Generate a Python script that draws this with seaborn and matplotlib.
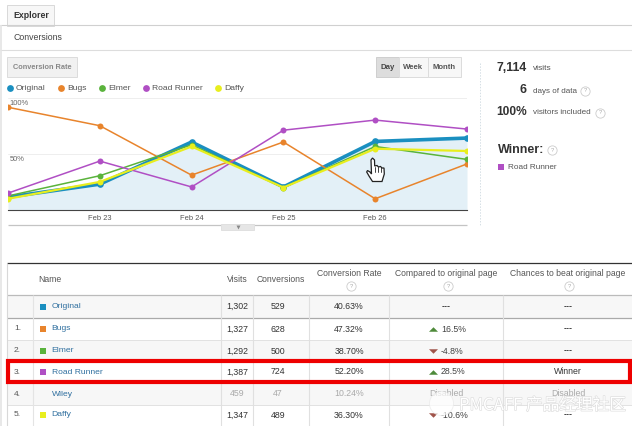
import matplotlib
matplotlib.use("Agg")
import matplotlib.pyplot as plt
import pandas as pd
import seaborn as sns
from matplotlib.patches import Polygon, Rectangle
import matplotlib.patheffects as pe

days = [0, 1, 2, 3, 4, 5]
tick_days = [1, 2, 3, 4]
tick_labels = ["Feb 23", "Feb 24", "Feb 25", "Feb 26"]

original = [11.5, 23, 60.5, 20.5, 61, 64]
bugs = [91.4, 75, 31, 60.5, 10, 41]
elmer = [12.5, 30.5, 58, 20, 56.5, 45]
road_runner = [15, 43.5, 20.5, 71, 80, 72]
daffy = [10, 25, 56.5, 20, 54.5, 52.5]

names = ["Original", "Bugs", "Elmer", "Road Runner", "Wiley", "Daffy"]
visits = ["1,302", "1,327", "1,292", "1,387", "459", "1,347"]
conversions = ["529", "628", "500", "724", "47", "489"]
rates = ["40.63%", "47.32%", "38.70%", "52.20%", "10.24%", "36.30%"]
compared = ["---", "16.5%", "-4.8%", "28.5%", "Disabled", "-10.6%"]
chances = ["---", "---", "---", "Winner", "Disabled", "---"]
ranks = ["", "1.", "2.", "3.", "4.", "5."]

BLUE = "#1a8fc0"
ORANGE = "#e8842c"
GREEN = "#5ab33c"
PURPLE = "#b04fc4"
YELLOW = "#e8ee1e"
colors = {"Original": BLUE, "Bugs": ORANGE, "Elmer": GREEN, "Road Runner": PURPLE, "Daffy": YELLOW}

TEXT = "#444444"
LINK = "#2f6f9f"
GREY = "#aaaaaa"
LINE = "#d8d8d8"

sns.set_theme(style="white")
plt.rcParams["font.family"] = ["Liberation Sans", "DejaVu Sans"]

df = pd.DataFrame({"day": days, "Original": original, "Bugs": bugs, "Elmer": elmer,
                   "Road Runner": road_runner, "Daffy": daffy})
long_df = df.melt(id_vars="day", var_name="variation", value_name="rate")

fig = plt.figure(figsize=(6.32, 4.26), dpi=100)

# page furniture is laid out in pixels on a full-figure axes
page = fig.add_axes([0, 0, 1, 1])
page.set_xlim(0, 632)
page.set_ylim(426, 0)
page.axis("off")


def hline(y, x0=0, x1=632, color=LINE, lw=0.8):
    page.plot([x0, x1], [y, y], color=color, lw=lw, solid_capstyle="butt")


def vline(x, y0, y1, color=LINE, lw=0.8, ls="-"):
    page.plot([x, x], [y0, y1], color=color, lw=lw, ls=ls, solid_capstyle="butt")


def box(x0, y0, x1, y1, face="#f1f1f1", edge="#dcdcdc", lw=0.7, z=1):
    page.add_patch(Rectangle((x0, y0), x1 - x0, y1 - y0, facecolor=face, edgecolor=edge, lw=lw, zorder=z))


def label(x, y, s, size=6.2, color=TEXT, ha="left", weight="normal"):
    page.text(x, y, s, fontsize=size, color=color, ha=ha, va="center", fontweight=weight, zorder=6)


def help_icon(x, y, r=4.5):
    page.scatter([x], [y], s=r * r * 2.2, facecolor="white", edgecolor="#cccccc", linewidth=0.6, zorder=5)
    label(x, y, "?", size=4.2, color="#aaaaaa", ha="center")


# tab and header
hline(25, color="#d0d0d0")
hline(50, color="#dddddd")
vline(1, 25, 426, color="#e4e4e4", lw=1.2)
box(7, 5, 54, 25.5, face="#f7f7f7", edge="#d8d8d8")
label(13, 16, "Explorer", size=6.3, color="#333333", weight="bold")
label(13, 38, "Conversions", size=6.3, color="#444444")

# buttons
box(7, 57, 77, 77)
label(42, 67.5, "Conversion Rate", size=5.3, color="#888888", ha="center", weight="bold")
box(376, 57, 399, 77, face="#dddddd", edge="#cfcfcf")
box(399, 57, 428, 77, face="#f7f7f7")
box(428, 57, 461, 77, face="#f7f7f7")
label(388, 67.5, "Day", size=5.6, color="#444444", ha="center", weight="bold")
label(413.5, 67.5, "Week", size=5.6, color="#555555", ha="center", weight="bold")
label(444.5, 67.5, "Month", size=5.6, color="#555555", ha="center", weight="bold")

# legend
for x, name in zip([10, 61, 102, 146, 218], colors):
    page.scatter([x], [88], s=24, color=colors[name], linewidth=0, zorder=4)
    label(x + 6, 88.5, name, size=6.1, color="#555555")

# chart, kept under the page axes so the cursor lands on top
ax = fig.add_axes([8 / 632, 1 - 210 / 426, (467 - 8) / 632, (210 - 97.6) / 426])
ax.set_zorder(-1)
ax.patch.set_alpha(0)
ax.fill_between(days, original, 0, color="#e3f0f7", lw=0)
sns.lineplot(data=long_df[long_df.variation == "Original"], x="day", y="rate", color=BLUE, lw=2.6,
             marker="o", markersize=4.8, markeredgewidth=0, ax=ax, zorder=3)
for name in ["Bugs", "Elmer", "Road Runner", "Daffy"]:
    sns.lineplot(data=long_df[long_df.variation == name], x="day", y="rate", color=colors[name],
                 lw=1.1, marker="o", markersize=4.3, markeredgewidth=0, ax=ax, zorder=4)
ax.lines[-1].set_linewidth(1.6)
ax.set_xlim(0, 5)
ax.set_ylim(0, 100)
ax.set_xticks(tick_days, tick_labels)
ax.set_yticks([50, 100], [])
ax.set_xlabel("")
ax.set_ylabel("")
ax.grid(axis="y", color="#eeeeee", lw=0.7)
ax.set_axisbelow(True)
sns.despine(ax=ax, left=True, right=True, top=True)
ax.spines["bottom"].set_color("#444444")
ax.spines["bottom"].set_linewidth(0.8)
ax.tick_params(axis="x", length=0, pad=3.5, labelsize=5.4, labelcolor="#555555")
ax.text(0.003, 48, "50%", fontsize=5.4, color="#666666", transform=ax.get_yaxis_transform(), va="top", ha="left")
ax.text(0.003, 98, "100%", fontsize=5.4, color="#666666", transform=ax.get_yaxis_transform(), va="top", ha="left")

# scrollbar handle under the chart
hline(224.5, 8, 467, color="#c4c4c4", lw=0.9)
box(221, 224, 254, 229.5, face="#e6e6e6", edge="#e0e0e0", z=3)
page.scatter([237.5], [226.5], marker="v", s=8, color="#888888", linewidth=0, zorder=4)

# hand cursor
hand = [(371, 160), (372.5, 158), (374.5, 160), (374.7, 166), (377, 165.5), (378.5, 167), (380.5, 166.5),
        (382, 168), (384, 168), (384.3, 174), (382, 181.5), (372.5, 181.5), (369, 176), (366.7, 172),
        (367.5, 170.5), (370, 172), (371.5, 174)]
page.add_patch(Polygon(hand, closed=True, facecolor="white", edgecolor="#222222", lw=0.9, zorder=7))
for x in [374.7, 377.5, 380.5]:
    page.plot([x, x], [167, 172], color="#222222", lw=0.6, zorder=8)

# summary on the right
vline(480, 63, 226, color="#d5dfe5", lw=0.7, ls=(0, (1.5, 1.5)))
label(527, 68, "7,114", size=8.9, color="#333333", ha="right", weight="bold")
label(533, 69, "visits", size=6, color="#555555")
label(527, 90, "6", size=8.9, color="#333333", ha="right", weight="bold")
label(533, 91.5, "days of data", size=5.8, color="#555555")
help_icon(585, 91)
label(527, 112, "100%", size=8.6, color="#333333", ha="right", weight="bold")
label(533, 113, "visitors included", size=5.9, color="#555555")
help_icon(600, 113)
label(498, 150, "Winner:", size=9, color="#333333", weight="bold")
help_icon(552, 150)
page.add_patch(Rectangle((498, 164), 6, 6, facecolor=PURPLE, lw=0))
label(507.5, 167.5, "Road Runner", size=5.9, color="#555555")

# table
table_top, header_bottom = 263, 295
row_tops = [295, 318, 339.5, 361, 382.5, 404.5]
row_bottom = 426
for i, top in enumerate(row_tops):
    bottom = row_tops[i + 1] if i + 1 < len(row_tops) else row_bottom
    if i in (0, 2, 4):
        page.add_patch(Rectangle((7, top), 625, bottom - top, facecolor="#f7f7f7", lw=0, zorder=0))
    hline(top, 7, 632, color="#e2e2e2", lw=0.7)
hline(table_top, 7, 632, color="#333333", lw=0.9)
hline(header_bottom, 7, 632, color="#bbbbbb", lw=0.9)
hline(318, 7, 632, color="#aaaaaa", lw=0.9)
vline(7, table_top, row_bottom, color="#d8d8d8")
vline(33, 295, row_bottom, color="#e4e4e4")
for x in [221, 253, 309, 389, 503]:
    vline(x, 295, row_bottom, color="#e0e0e0")
label(38, 280, "Name", size=6.2, color="#555555")
label(237, 280, "Visits", size=6.2, color="#555555", ha="center")
label(281, 280, "Conversions", size=6.2, color="#555555", ha="center")
label(349, 274, "Conversion Rate", size=6.2, color="#555555", ha="center")
label(446, 274, "Compared to original page", size=6.2, color="#555555", ha="center")
label(568, 274, "Chances to beat original page", size=6.25, color="#555555", ha="center")
for x in [351, 448, 569]:
    help_icon(x, 286)

# marker paths are not flipped by the inverted y axis
up_arrow = [(-1, -0.5), (1, -0.5), (0, 0.5)]
row_y = [306.5, 329, 351, 372, 394, 415]
for i, name in enumerate(names):
    y = row_y[i]
    disabled = name == "Wiley"
    num_color = GREY if disabled else "#333333"
    label(14, y, ranks[i], size=6, color="#555555")
    if name in colors:
        page.add_patch(Rectangle((39.5, y - 3), 6, 6, facecolor=colors[name], lw=0, zorder=3))
    label(51.5, y, name, size=6.1, color=LINK)
    label(237, y, visits[i], size=6.3, color=num_color, ha="center")
    label(278, y, conversions[i], size=6.3, color=num_color, ha="center")
    label(349, y, rates[i], size=6.3, color=num_color, ha="center")
    # compared column carries an arrow when it is a number
    value = compared[i]
    if value.endswith("%"):
        up = not value.startswith("-")
        arrow = up_arrow if up else [(px, -py) for px, py in up_arrow]
        page.scatter([433], [y], marker=arrow, s=42, color="#4e8a3a" if up else "#a0544a",
                     linewidth=0, zorder=4)
        label(441, y, value, size=6.3, color="#444444")
    else:
        label(446, y, value, size=6.3, color=GREY if disabled else "#333333", ha="center",
              weight="normal" if disabled else "bold")
    label(568, y, chances[i], size=6.3, color=GREY if disabled else "#333333", ha="center",
          weight="bold" if chances[i] == "---" else "normal")

# red highlight around the winning row
page.add_patch(Rectangle((7.5, 360.5), 622, 21.5, facecolor="none", edgecolor="#ee0000", lw=3, zorder=8))

# watermark
page.scatter([441], [403], s=300, facecolor="white", edgecolor="#e8e8e8", alpha=0.7, linewidth=0.6, zorder=7)
page.text(459, 405.5, "PMCAFF \u4ea7\u54c1\u7ecf\u7406\u793e\u533a", fontsize=12,
          family=["Noto Sans CJK SC", "DejaVu Sans"], color="white", ha="left", va="center", zorder=9,
          path_effects=[pe.withStroke(linewidth=0.9, foreground="#dddddd")])

fig.savefig("out.png", dpi=100)
